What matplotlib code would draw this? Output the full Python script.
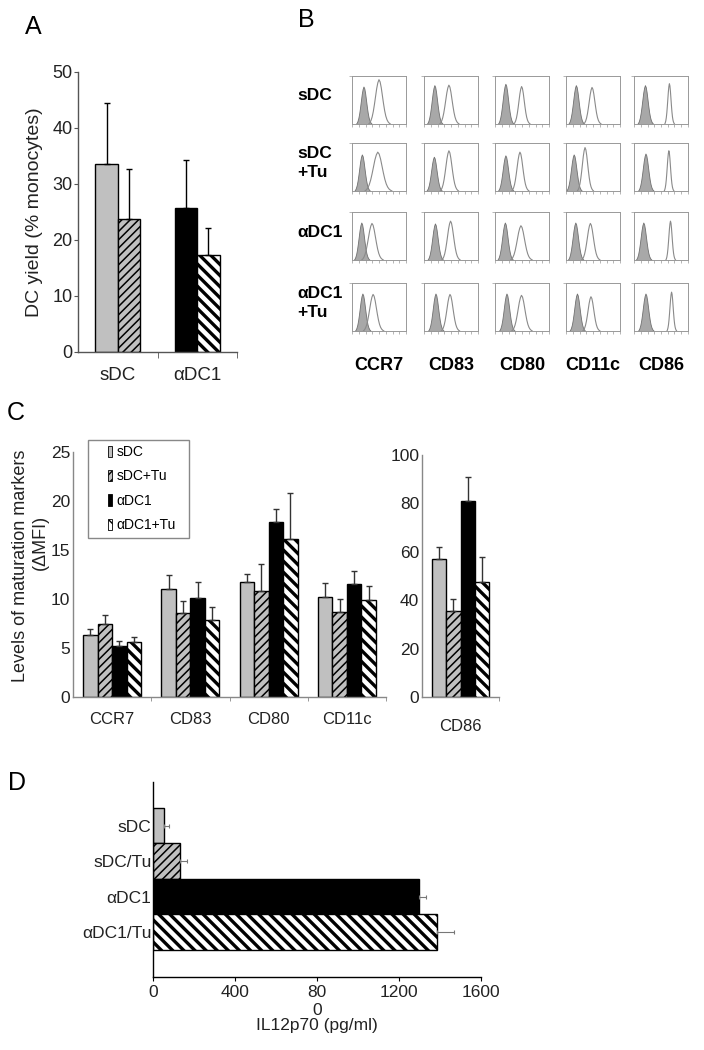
import numpy as np
import matplotlib
matplotlib.use("Agg")
import matplotlib.pyplot as plt
from matplotlib.patches import Patch, Rectangle

plt.rcParams['font.family'] = ['Liberation Sans', 'DejaVu Sans']

# --- DATA ---
# panel A: DC yield (% monocytes)
A_groups = ['sDC', '\u03b1DC1']
A_yield = [33.5, 23.7, 25.8, 17.4]      # sDC, sDC+Tu, aDC1, aDC1+Tu
A_err = [11.0, 9.0, 8.4, 4.7]

# panel B: flow histograms (peak position / spread / height, as fraction of each box)
B_rows = ['sDC', 'sDC\n+Tu', '\u03b1DC1', '\u03b1DC1\n+Tu']
B_cols = ['CCR7', 'CD83', 'CD80', 'CD11c', 'CD86']
B_iso_peak = [[0.22, 0.20, 0.20, 0.19, 0.21],
              [0.19, 0.19, 0.20, 0.15, 0.22],
              [0.18, 0.21, 0.19, 0.18, 0.18],
              [0.20, 0.22, 0.22, 0.21, 0.22]]
B_iso_height = [[0.82, 0.85, 0.88, 0.85, 0.85],
                [0.80, 0.75, 0.78, 0.80, 0.82],
                [0.82, 0.80, 0.82, 0.82, 0.82],
                [0.82, 0.82, 0.82, 0.82, 0.82]]
B_mk_peak = [[0.51, 0.47, 0.50, 0.49, 0.66],
             [0.49, 0.47, 0.47, 0.36, 0.65],
             [0.38, 0.50, 0.49, 0.46, 0.68],
             [0.40, 0.49, 0.50, 0.47, 0.70]]
B_mk_spread = [[0.20, 0.18, 0.15, 0.16, 0.09],
               [0.25, 0.17, 0.16, 0.15, 0.09],
               [0.20, 0.17, 0.20, 0.17, 0.09],
               [0.19, 0.17, 0.19, 0.16, 0.09]]
B_mk_height = [[0.97, 0.85, 0.82, 0.80, 0.88],
               [0.85, 0.88, 0.85, 0.95, 0.88],
               [0.80, 0.85, 0.75, 0.80, 0.85],
               [0.80, 0.80, 0.78, 0.75, 0.85]]
# typical peak shape (normalised counts)
B_profile = [0.0, 0.03, 0.08, 0.16, 0.28, 0.44, 0.62, 0.80, 0.93, 1.0,
             0.95, 0.82, 0.64, 0.46, 0.30, 0.18, 0.10, 0.05, 0.02, 0.0]

# panel C: maturation markers (delta MFI)
C_markers = ['CCR7', 'CD83', 'CD80', 'CD11c']
C_sdc = [6.3, 11.0, 11.7, 10.2]
C_sdc_err = [0.6, 1.5, 0.85, 1.4]
C_sdc_tu = [7.5, 8.6, 10.8, 8.7]
C_sdc_tu_err = [0.9, 1.2, 2.8, 1.3]
C_adc1 = [5.2, 10.1, 17.9, 11.5]
C_adc1_err = [0.5, 1.6, 1.3, 1.4]
C_adc1_tu = [5.6, 7.9, 16.1, 9.9]
C_adc1_tu_err = [0.5, 1.25, 4.7, 1.4]
C86 = [57.2, 35.4, 80.8, 47.7]
C86_err = [4.7, 4.9, 10.0, 10.2]
C_legend = ['sDC', 'sDC+Tu', '\u03b1DC1', '\u03b1DC1+Tu']

# panel D: IL12p70
D_labels = ['sDC', 'sDC/Tu', '\u03b1DC1', '\u03b1DC1/Tu']
D_il12 = [54, 130, 1296, 1387]
D_err = [24, 38, 34, 83]
D_ticks = [0, 400, 800, 1200, 1600]
D_ticklabels = ['0', '400', '80\n0', '1200', '1600']

# --- STYLE ---
W, H = 704, 1050
LIGHT = '#c0c0c0'
TXT = '#222222'
STYLES = [dict(color=LIGHT, hatch=None, hlw=1.0),
          dict(color=LIGHT, hatch='////', hlw=1.1),
          dict(color='black', hatch=None, hlw=1.0),
          dict(color='white', hatch='\\\\\\', hlw=2.4)]

fig = plt.figure(figsize=(W / 100, H / 100), dpi=100)


def add_ax(x0, y0, x1, y1):
    # pixel box (top-left origin) -> figure fraction
    return fig.add_axes([x0 / W, 1 - y1 / H, (x1 - x0) / W, (y1 - y0) / H])


def draw_bar(ax, pos, val, width, k, horizontal=False):
    st = STYLES[k]
    with plt.rc_context({'hatch.linewidth': st['hlw']}):
        if horizontal:
            bars = ax.barh(pos, val, height=width, color=st['color'], hatch=st['hatch'],
                           edgecolor='black', linewidth=1.0, zorder=2)
        else:
            bars = ax.bar(pos, val, width=width, color=st['color'], hatch=st['hatch'],
                          edgecolor='black', linewidth=1.0, zorder=2)
    for b in bars:
        if hasattr(b, 'set_hatch_linewidth'):
            b.set_hatch_linewidth(st['hlw'])
    return bars


def style_axes(ax, color):
    for s in ['top', 'right']:
        ax.spines[s].set_visible(False)
    for s in ['left', 'bottom']:
        ax.spines[s].set_color(color)
        ax.spines[s].set_linewidth(1.0)


# --- PANEL A ---
axA = add_ax(78, 72, 237, 352)
wA = 0.283
xA = np.arange(len(A_groups))
for i in range(2):
    for j in range(2):
        k = 2 * i + j
        pos = xA[i] + (j - 0.5) * wA
        draw_bar(axA, pos, A_yield[k], wA, k)
        axA.errorbar(pos, A_yield[k], yerr=[[0], [A_err[k]]], fmt='none',
                     ecolor='black', elinewidth=1.0, capsize=2.5, capthick=1.0, zorder=3)
axA.set_xlim(-0.5, 1.5)
axA.set_ylim(0, 50)
axA.set_yticks([0, 10, 20, 30, 40, 50])
axA.set_xticks(xA)
axA.set_xticklabels(A_groups)
axA.set_xticks([0.5, 1.5], minor=True)
axA.tick_params(axis='x', which='major', length=0, pad=11, labelsize=13.5, labelcolor=TXT)
axA.tick_params(axis='x', which='minor', length=4, color='#555555')
axA.tick_params(axis='y', length=3, pad=1, labelsize=13, color='#555555', labelcolor=TXT)
style_axes(axA, '#555555')
fig.text(35 / W, 1 - 212 / H, 'DC yield (% monocytes)', fontsize=14, rotation=90,
         ha='center', va='center', color=TXT)
fig.text(33 / W, 1 - 27 / H, 'A', fontsize=18, ha='center', va='center')

# --- PANEL B ---
fig.text(306 / W, 1 - 20 / H, 'B', fontsize=18, ha='center', va='center')
col_x = [352, 424, 495, 566, 634]
row_y = [76, 143, 212, 283]
box_w, box_h = 54, 48
offsets = np.linspace(-1, 1, len(B_profile))
prof = np.array(B_profile)
for r in range(len(B_rows)):
    for c in range(len(B_cols)):
        ax = add_ax(col_x[c], row_y[r], col_x[c] + box_w, row_y[r] + box_h)
        xi = B_iso_peak[r][c] + 0.15 * offsets
        ax.fill_between(xi, 0, B_iso_height[r][c] * prof, color='#a8a8a8',
                        edgecolor='#707070', linewidth=0.6)
        xm = B_mk_peak[r][c] + B_mk_spread[r][c] * offsets
        ax.plot(xm, B_mk_height[r][c] * prof, color='#8a8a8a', linewidth=0.8)
        ax.set_xlim(0, 1)
        ax.set_ylim(0, 1.05)
        ax.set_xticks(np.linspace(0, 1, 9))
        ax.set_yticks([1.05])
        ax.tick_params(length=2, width=0.5, color='#999999', labelbottom=False,
                       labelleft=False, direction='out')
        for s in ax.spines.values():
            s.set_color('#999999')
            s.set_linewidth(0.7)
        if c == 0:
            fig.text(297 / W, 1 - (row_y[r] + 20) / H, B_rows[r], fontsize=12.5,
                     fontweight='bold', ha='left', va='center', linespacing=1.3)
for c in range(len(B_cols)):
    fig.text((col_x[c] + box_w / 2) / W, 1 - 366 / H, B_cols[c], fontsize=13,
             fontweight='bold', ha='center', va='center')

# --- PANEL C ---
fig.text(16 / W, 1 - 413 / H, 'C', fontsize=18, ha='center', va='center')
axC = add_ax(73, 452, 386, 697)
wC = 0.185
xC = np.arange(len(C_markers))
C_vals = [C_sdc, C_sdc_tu, C_adc1, C_adc1_tu]
C_errs = [C_sdc_err, C_sdc_tu_err, C_adc1_err, C_adc1_tu_err]
for k in range(4):
    pos = xC + (k - 1.5) * wC
    draw_bar(axC, pos, C_vals[k], wC, k)
    axC.errorbar(pos, C_vals[k], yerr=[np.zeros(len(xC)), C_errs[k]], fmt='none',
                 ecolor='#333333', elinewidth=1.0, capsize=2, capthick=1.0, zorder=3)
axC.set_xlim(-0.5, 3.5)
axC.set_ylim(0, 25)
axC.set_yticks([0, 5, 10, 15, 20, 25])
axC.set_xticks(xC)
axC.set_xticklabels(C_markers)
axC.set_xticks([0.5, 1.5, 2.5, 3.5], minor=True)
axC.tick_params(axis='x', which='major', length=0, pad=11, labelsize=12, labelcolor=TXT)
axC.tick_params(axis='x', which='minor', length=3, color='#888888')
axC.tick_params(axis='y', length=0, pad=2, labelsize=12.5, labelcolor=TXT)
style_axes(axC, '#888888')
# two-line y label, written as two texts so the short line can sit close to the ticks
fig.text(21 / W, 1 - 566 / H, 'Levels of maturation markers', fontsize=13,
         rotation=90, ha='center', va='center', color=TXT)
fig.text(40 / W, 1 - 542 / H, '(\u0394MFI)', fontsize=13,
         rotation=90, ha='center', va='center', color=TXT)

# legend drawn inside a plain square frame
fig.patches.append(Rectangle((88 / W, 1 - 538 / H), 101 / W, 98 / H, transform=fig.transFigure,
                             facecolor='white', edgecolor='#888888', linewidth=1.0))
handles = []
for k in range(4):
    st = STYLES[k]
    handles.append(Patch(facecolor=st['color'], hatch=st['hatch'], edgecolor='black',
                         linewidth=0.6))
leg = fig.legend(handles, C_legend, loc='upper left', bbox_to_anchor=(108 / W, 1 - 445 / H),
                 frameon=False, fontsize=10, handlelength=0.3, handleheight=0.85,
                 handletextpad=0.3, labelspacing=0.75, borderpad=0, borderaxespad=0)

axC86 = add_ax(422, 455, 499, 697)
for k in range(4):
    pos = (k - 1.5) * wC
    draw_bar(axC86, pos, C86[k], wC, k)
    axC86.errorbar(pos, C86[k], yerr=[[0], [C86_err[k]]], fmt='none',
                   ecolor='#333333', elinewidth=1.0, capsize=2, capthick=1.0, zorder=3)
axC86.set_xlim(-0.5, 0.5)
axC86.set_ylim(0, 100)
axC86.set_yticks([0, 20, 40, 60, 80, 100])
axC86.set_xticks([0])
axC86.set_xticklabels(['CD86'])
axC86.set_xticks([0.5], minor=True)
axC86.tick_params(axis='x', which='major', length=0, pad=16, labelsize=12, labelcolor=TXT)
axC86.tick_params(axis='x', which='minor', length=3, color='#888888')
axC86.tick_params(axis='y', length=0, pad=2, labelsize=12.5, labelcolor=TXT)
style_axes(axC86, '#888888')

# --- PANEL D ---
fig.text(17 / W, 1 - 783 / H, 'D', fontsize=18, ha='center', va='center')
axD = add_ax(153, 782, 481, 977)
yD = np.arange(len(D_labels))
for k in range(4):
    draw_bar(axD, yD[k], D_il12[k], 1.0, k, horizontal=True)
    axD.errorbar(D_il12[k], yD[k], xerr=[[0], [D_err[k]]], fmt='none',
                 ecolor='#777777', elinewidth=0.8, capsize=1.5, capthick=0.8, zorder=3)
axD.set_xlim(0, 1600)
axD.set_ylim(4.26, -1.23)
axD.set_yticks(yD)
axD.set_yticklabels(D_labels)
axD.set_xticks(D_ticks)
axD.set_xticklabels(D_ticklabels)
axD.tick_params(axis='y', length=0, pad=1, labelsize=12.5, labelcolor=TXT)
axD.tick_params(axis='x', length=3, pad=3, labelsize=12.5, labelcolor=TXT)
axD.set_xlabel('IL12p70 (pg/ml)', fontsize=12.5, labelpad=0, color=TXT)
style_axes(axD, 'black')

fig.savefig('out.png', dpi=100)
